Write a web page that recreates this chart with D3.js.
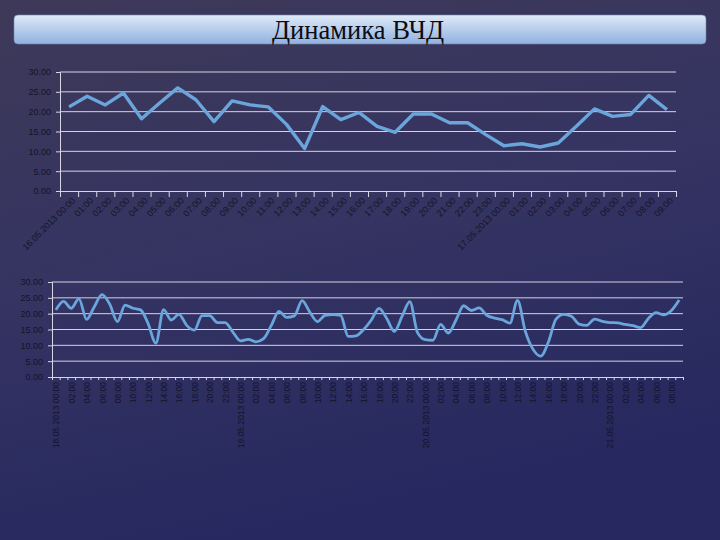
<!DOCTYPE html>
<html>
<head>
<meta charset="utf-8">
<script src="https://cdn.jsdelivr.net/npm/d3@7"></script>
<style>
  html, body { margin: 0; padding: 0; }
  body { width: 720px; height: 540px; overflow: hidden; }
  .axis text { font-family: "Liberation Sans", "DejaVu Sans", sans-serif; fill: #14142a; }
  .axis path, .axis line { stroke: #d8d6e6; }
</style>
</head>
<body>
<div id="chart"></div>
<script>
  // top chart: hourly values, 16.05 00:00 .. 17.05 09:00
  const topLabels = [
    "16.05.2013 00:00", "01:00", "02:00", "03:00", "04:00", "05:00", "06:00", "07:00",
    "08:00", "09:00", "10:00", "11:00", "12:00", "13:00", "14:00", "15:00", "16:00",
    "17:00", "18:00", "19:00", "20:00", "21:00", "22:00", "23:00",
    "17.05.2013 00:00", "01:00", "02:00", "03:00", "04:00", "05:00", "06:00", "07:00",
    "08:00", "09:00",
  ];
  const topValues = [
    21.2, 23.9, 21.7, 24.7, 18.2, 22.2, 26.0, 23.0, 17.5, 22.7, 21.7, 21.2, 16.8,
    10.7, 21.3, 18.0, 19.8, 16.3, 14.8, 19.4, 19.4, 17.2, 17.2, 14.2, 11.4, 11.9,
    11.1, 12.1, 16.3, 20.7, 18.8, 19.3, 24.1, 20.5,
  ];

  // bottom chart: hourly values, 18.05 00:00 .. 21.05 09:00
  const bottomLabels = [
    "18.05.2013 00:00", "01:00", "02:00", "03:00", "04:00", "05:00", "06:00", "07:00",
    "08:00", "09:00", "10:00", "11:00", "12:00", "13:00", "14:00", "15:00", "16:00",
    "17:00", "18:00", "19:00", "20:00", "21:00", "22:00", "23:00",
    "19.05.2013 00:00", "01:00", "02:00", "03:00", "04:00", "05:00", "06:00", "07:00",
    "08:00", "09:00", "10:00", "11:00", "12:00", "13:00", "14:00", "15:00", "16:00",
    "17:00", "18:00", "19:00", "20:00", "21:00", "22:00", "23:00",
    "20.05.2013 00:00", "01:00", "02:00", "03:00", "04:00", "05:00", "06:00", "07:00",
    "08:00", "09:00", "10:00", "11:00", "12:00", "13:00", "14:00", "15:00", "16:00",
    "17:00", "18:00", "19:00", "20:00", "21:00", "22:00", "23:00",
    "21.05.2013 00:00", "01:00", "02:00", "03:00", "04:00", "05:00", "06:00", "07:00",
    "08:00", "09:00",
  ];
  const bottomValues = [
    21.2, 23.9, 21.7, 24.7, 18.2, 22.2, 26.0, 23.0, 17.5, 22.7, 21.7, 21.2, 16.8,
    10.7, 21.3, 18.0, 19.8, 16.3, 14.8, 19.4, 19.4, 17.2, 17.2, 14.2, 11.4, 11.9,
    11.1, 12.1, 16.3, 20.7, 18.8, 19.3, 24.1, 20.5, 17.5, 19.5, 19.7, 19.5, 12.8,
    13.0, 15.0, 18.0, 21.7, 18.5, 14.4, 19.2, 23.8, 14.0, 11.8, 11.6, 16.6, 13.9,
    18.0, 22.5, 21.0, 21.8, 19.5, 18.6, 18.1, 17.0, 24.2, 14.5, 8.8, 6.6, 11.0,
    18.3, 19.8, 19.2, 16.7, 16.3, 18.3, 17.6, 17.2, 17.1, 16.6, 16.2, 15.6, 18.5,
    20.3, 19.6, 21.0, 24.3,
  ];

  const yTicks = [0, 5, 10, 15, 20, 25, 30];
  const fmt = (d) => d3.format(".2f")(d);

  const width = 720;
  const height = 540;

  const svg = d3
    .select("#chart")
    .append("svg")
    .attr("width", width)
    .attr("height", height);

  // background and title box gradients
  const defs = svg.append("defs");
  const bg = defs
    .append("linearGradient")
    .attr("id", "bg")
    .attr("x1", 0)
    .attr("y1", 0)
    .attr("x2", 0.3)
    .attr("y2", 1);
  bg.append("stop").attr("offset", "0%").attr("stop-color", "#3e3958");
  bg.append("stop").attr("offset", "50%").attr("stop-color", "#353462");
  bg.append("stop").attr("offset", "100%").attr("stop-color", "#26285f");

  const titleGrad = defs
    .append("linearGradient")
    .attr("id", "titleGrad")
    .attr("x1", 0)
    .attr("y1", 0)
    .attr("x2", 0)
    .attr("y2", 1);
  titleGrad.append("stop").attr("offset", "0%").attr("stop-color", "#dfeaf8");
  titleGrad.append("stop").attr("offset", "100%").attr("stop-color", "#8fb1df");

  svg
    .append("rect")
    .attr("width", width)
    .attr("height", height)
    .attr("fill", "url(#bg)");

  svg
    .append("rect")
    .attr("x", 14)
    .attr("y", 15)
    .attr("width", 692)
    .attr("height", 29)
    .attr("rx", 4)
    .attr("fill", "url(#titleGrad)")
    .attr("stroke", "#6f86b0")
    .attr("stroke-width", 0.6);

  svg
    .append("text")
    .attr("x", 358)
    .attr("y", 39)
    .attr("text-anchor", "middle")
    .attr("textLength", 172)
    .attr("lengthAdjust", "spacingAndGlyphs")
    .style("font-family", "'Liberation Serif', 'DejaVu Serif', serif")
    .style("font-size", "28px")
    .style("fill", "#0c0c14")
    .text("Динамика ВЧД");

  function drawChart(opts) {
    const { labels, values, left, right, top, bottom, labelEvery, rotate, curve } = opts;
    const n = values.length;

    const x = d3.scaleLinear().domain([0, n]).range([left, right]);
    const y = d3.scaleLinear().domain([0, 30]).range([bottom, top]);

    const g = svg.append("g");

    // gridlines
    g.selectAll("line.grid")
      .data(yTicks.slice(1))
      .join("line")
      .attr("class", "grid")
      .attr("x1", left)
      .attr("x2", right)
      .attr("y1", (d) => y(d))
      .attr("y2", (d) => y(d))
      .style("stroke", "#d4d2e4")
      .style("stroke-width", 1);

    // y axis
    const yAxis = g
      .append("g")
      .attr("class", "axis")
      .attr("transform", `translate(${left},0)`)
      .call(d3.axisLeft(y).tickValues(yTicks).tickFormat(fmt).tickSize(4).tickPadding(5));
    yAxis.selectAll("text").style("font-size", "9px");

    // x axis tick marks at category boundaries
    g.append("g")
      .attr("class", "axis")
      .attr("transform", `translate(0,${bottom})`)
      .call(
        d3
          .axisBottom(x)
          .tickValues(d3.range(n + 1))
          .tickFormat("")
          .tickSize(opts.tickLen)
          .tickSizeOuter(0)
      );

    // x axis labels at category centres
    const shown = d3.range(n).filter((i) => i % labelEvery === 0);
    const xLabels = g
      .append("g")
      .attr("class", "axis")
      .attr("transform", `translate(0,${bottom})`)
      .call(
        d3
          .axisBottom(x)
          .tickValues(shown.map((i) => i + 0.5))
          .tickFormat((d) => labels[Math.floor(d)])
          .tickSize(0)
      );
    xLabels.select(".domain").remove();
    xLabels
      .selectAll("text")
      .style("font-size", opts.labelSize)
      .attr("text-anchor", "end")
      .attr("dy", "0.35em")
      .attr("y", 0)
      .attr("transform", rotate);

    // the series line
    const line = d3
      .line()
      .x((d, i) => x(i + 0.5))
      .y((d) => y(d))
      .curve(curve);

    g.append("path")
      .datum(values)
      .attr("d", line)
      .style("fill", "none")
      .style("stroke", "#6aa5dc")
      .style("stroke-width", opts.lineWidth)
      .style("stroke-linejoin", "round");
  }

  drawChart({
    labels: topLabels,
    values: topValues,
    left: 60,
    right: 676,
    top: 72,
    bottom: 191,
    labelEvery: 1,
    tickLen: 6,
    labelSize: "9px",
    rotate: "translate(4,8) rotate(-45)",
    curve: d3.curveLinear,
    lineWidth: 3.4,
  });

  drawChart({
    labels: bottomLabels,
    values: bottomValues,
    left: 52,
    right: 683,
    top: 282,
    bottom: 377,
    labelEvery: 2,
    tickLen: 3,
    labelSize: "8.5px",
    rotate: "translate(0,5) rotate(-90)",
    curve: d3.curveMonotoneX,
    lineWidth: 2.8,
  });
</script>
</body>
</html>
